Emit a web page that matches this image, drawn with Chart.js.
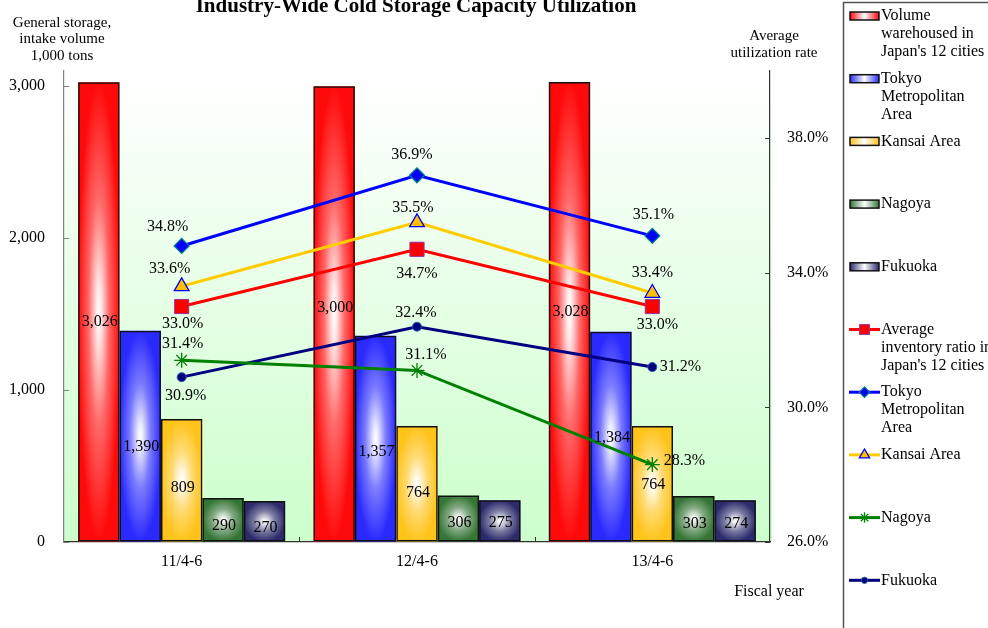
<!DOCTYPE html>
<html><head><meta charset="utf-8">
<script src="https://cdn.jsdelivr.net/npm/chart.js@4.4.1/dist/chart.umd.min.js"></script>
<style>html,body{margin:0;padding:0;background:#fff;}#wrap{width:988px;height:628px;position:relative;}</style>
</head><body><div id="wrap"><canvas id="c" width="988" height="628"></canvas></div>
<script>
// ---- data ----
const categories = ['11/4-6', '12/4-6', '13/4-6'];
const volume12Cities = [3026, 3000, 3028];
const volumeTokyo = [1390, 1357, 1384];
const volumeKansai = [809, 764, 764];
const volumeNagoya = [290, 306, 303];
const volumeFukuoka = [270, 275, 274];
const ratio12Cities = [33.0, 34.7, 33.0];
const ratioTokyo = [34.8, 36.9, 35.1];
const ratioKansai = [33.6, 35.5, 33.4];
const ratioNagoya = [31.4, 31.1, 28.3];
const ratioFukuoka = [30.9, 32.4, 31.2];
const leftTicks = [0, 1000, 2000, 3000];
const rightTicks = [26, 30, 34, 38];
const barLabels = ["Volume\nwarehoused in\nJapan's 12 cities", 'Tokyo\nMetropolitan\nArea', 'Kansai Area', 'Nagoya', 'Fukuoka'];
const lineLabels = ["Average\ninventory ratio in\nJapan's 12 cities", 'Tokyo\nMetropolitan\nArea', 'Kansai Area', 'Nagoya', 'Fukuoka'];

// ---- styles ----
const FONT = "'Liberation Serif', 'Times New Roman', serif";
const barColors = ['#ff0a0a', '#2a2aff', '#ffc31a', '#357535', '#2b2b6b'];
const lineStyles = [
  {color:'#ff0000', point:'rect', radius:10, fill:'#ff0000', border:'#993399', bw:1},
  {color:'#0000ff', point:'rectRot', radius:7.5, fill:'#0000ff', border:'#008080', bw:1.2},
  {color:'#ffcc00', point:'triangle', radius:8.5, fill:'#ffc000', border:'#0000ff', bw:1.3},
  {color:'#008000', point:'star', radius:7.5, fill:'#008000', border:'#008000', bw:1.3},
  {color:'#000080', point:'circle', radius:4.5, fill:'#000080', border:'#2a5fa0', bw:1}
];
const barLabelOffsets = [[10,-6,0],[11,13,1],[8,9,1],[6,4,5],[7,2,3]];
const lineLabelOffsets = [
  [[1,17],[0,24],[5,18]],
  [[-14,-19],[-5,-20],[1,-21]],
  [[-12,-18],[-4,-15],[0,-20]],
  [[1,-17],[9,-16],[32,-4]],
  [[4,19],[-1,-14],[28,0]]
];

function mix(hex, t) { // t=0 -> color, t=1 -> white
  const n = parseInt(hex.slice(1), 16);
  const r = (n >> 16) & 255, g = (n >> 8) & 255, b = n & 255;
  const f = c => Math.round(c + (255 - c) * t);
  return 'rgb(' + f(r) + ',' + f(g) + ',' + f(b) + ')';
}

const barSeries = [volume12Cities, volumeTokyo, volumeKansai, volumeNagoya, volumeFukuoka];
const lineSeries = [ratio12Cities, ratioTokyo, ratioKansai, ratioNagoya, ratioFukuoka];

const datasets = [];
lineSeries.forEach((d, i) => {
  const s = lineStyles[i];
  datasets.push({
    type: 'line', label: lineLabels[i], data: d, yAxisID: 'y1', order: 1,
    borderColor: s.color, borderWidth: 3, tension: 0, fill: false,
    pointStyle: s.point, pointRadius: s.radius, pointBackgroundColor: s.fill,
    pointBorderColor: s.border, pointBorderWidth: s.bw, _kind: 'line', _idx: i
  });
});
barSeries.forEach((d, i) => {
  datasets.push({
    type: 'bar', label: barLabels[i], data: d, yAxisID: 'y', order: 2,
    backgroundColor: 'rgba(0,0,0,0)', borderColor: '#111', borderWidth: 1.5,
    borderSkipped: false, barPercentage: 1, categoryPercentage: 0.88, _kind: 'bar', _idx: i
  });
});

const bgPlugin = {
  id: 'bg',
  beforeDraw(chart) {
    const {ctx, chartArea: a} = chart;
    ctx.save();
    ctx.fillStyle = '#fff';
    ctx.fillRect(0, 0, chart.width, chart.height);
    const g = ctx.createLinearGradient(0, a.top, 0, a.bottom);
    g.addColorStop(0, '#ffffff');
    g.addColorStop(1, '#ccffcc');
    ctx.fillStyle = g;
    ctx.fillRect(a.left, a.top, a.right - a.left + 2, a.bottom - a.top);
    ctx.restore();
  }
};

function fillBarGradient(ctx, left, top, w, h, color) {
  ctx.save();
  ctx.beginPath();
  ctx.rect(left, top, w, h);
  ctx.clip();
  ctx.translate(left + w / 2, top + h / 2);
  ctx.scale(w / 2, h / 2);
  const g = ctx.createRadialGradient(0, 0, 0, 0, 0, 1);
  g.addColorStop(0, '#ffffff');
  g.addColorStop(0.12, mix(color, 0.9));
  g.addColorStop(0.5, mix(color, 0.38));
  g.addColorStop(1, color);
  ctx.fillStyle = g;
  ctx.fillRect(-2, -2, 4, 4);
  ctx.restore();
}

const barFillPlugin = {
  id: 'barFill',
  beforeDatasetsDraw(chart) {
    const ctx = chart.ctx;
    chart.data.datasets.forEach((ds, di) => {
      if (ds._kind !== 'bar') return;
      const meta = chart.getDatasetMeta(di);
      meta.data.forEach(el => {
        const left = el.x - el.width / 2;
        const top = Math.min(el.y, el.base);
        const h = Math.abs(el.base - el.y);
        fillBarGradient(ctx, left, top, el.width, h, barColors[ds._idx]);
      });
    });
  }
};

const labelPlugin = {
  id: 'labels',
  afterDatasetsDraw(chart) {
    const ctx = chart.ctx;
    ctx.save();
    ctx.font = '16px ' + FONT;
    ctx.fillStyle = '#000';
    ctx.textAlign = 'center';
    ctx.textBaseline = 'middle';
    chart.data.datasets.forEach((ds, di) => {
      const meta = chart.getDatasetMeta(di);
      meta.data.forEach((el, j) => {
        if (ds._kind === 'bar') {
          const y = (el.y + el.base) / 2 + barLabelOffsets[ds._idx][j];
          ctx.fillText(ds.data[j].toLocaleString('en-US'), el.x + 1, y);
        } else {
          const o = lineLabelOffsets[ds._idx][j];
          ctx.fillText(ds.data[j].toFixed(1) + '%', el.x + o[0], el.y + o[1]);
        }
      });
    });
    ctx.restore();
  }
};

const decoPlugin = {
  id: 'deco',
  afterDraw(chart) {
    const ctx = chart.ctx;
    const a = chart.chartArea;
    const sy = chart.scales.y, sy1 = chart.scales.y1, sx = chart.scales.x;
    ctx.save();
    // inward tick marks
    ctx.lineWidth = 1;
    ctx.strokeStyle = '#808080';
    sy.ticks.forEach(t => {
      const p = Math.round(sy.getPixelForValue(t.value)) + 0.5;
      ctx.beginPath(); ctx.moveTo(a.left, p); ctx.lineTo(a.left + 5, p); ctx.stroke();
    });
    ctx.strokeStyle = '#333';
    sy1.ticks.forEach(t => {
      const p = Math.round(sy1.getPixelForValue(t.value)) + 0.5;
      ctx.beginPath(); ctx.moveTo(a.right - 5, p); ctx.lineTo(a.right, p); ctx.stroke();
    });
    for (let i = 0; i < categories.length - 1; i++) {
      const p = Math.round((sx.getPixelForTick(i) + sx.getPixelForTick(i + 1)) / 2) + 0.5;
      ctx.beginPath(); ctx.moveTo(p, a.bottom); ctx.lineTo(p, a.bottom - 5); ctx.stroke();
    }
    // title
    ctx.fillStyle = '#000';
    ctx.textAlign = 'center';
    ctx.textBaseline = 'alphabetic';
    ctx.font = 'bold 21px ' + FONT;
    ctx.fillText('Industry-Wide Cold Storage Capacity Utilization', 416, 12);
    // axis titles
    ctx.textBaseline = 'middle';
    ctx.font = '15px ' + FONT;
    ['General storage,', 'intake volume', '1,000 tons'].forEach((s, i) => ctx.fillText(s, 62, 23 + i * 16.3));
    ['Average', 'utilization rate'].forEach((s, i) => ctx.fillText(s, 774, 36 + i * 17));
    ctx.font = '16px ' + FONT;
    ctx.fillText('Fiscal year', 769, 592);
    // legend box
    ctx.strokeStyle = '#555';
    ctx.lineWidth = 1.5;
    ctx.strokeRect(843.5, 2.5, 400, 700);
    const items = [];
    chart.data.datasets.filter(d => d._kind === 'bar').forEach(d => items.push(d));
    chart.data.datasets.filter(d => d._kind === 'line').forEach(d => items.push(d));
    ctx.textAlign = 'left';
    ctx.font = '16px ' + FONT;
    items.forEach((d, k) => {
      const y = 16 + k * 62.7;
      if (d._kind === 'bar') {
        const c = barColors[d._idx];
        const g = ctx.createLinearGradient(850, 0, 879, 0);
        g.addColorStop(0, c); g.addColorStop(0.5, '#ffffff'); g.addColorStop(1, c);
        ctx.fillStyle = g;
        ctx.fillRect(850, y - 4, 29, 8);
        ctx.strokeStyle = '#111'; ctx.lineWidth = 1.5;
        ctx.strokeRect(850, y - 4, 29, 8);
      } else {
        const s = lineStyles[d._idx];
        ctx.strokeStyle = s.color; ctx.lineWidth = 3;
        ctx.beginPath(); ctx.moveTo(849, y); ctx.lineTo(880, y); ctx.stroke();
        ctx.fillStyle = s.fill; ctx.strokeStyle = s.border; ctx.lineWidth = s.bw;
        Chart.helpers.drawPoint(ctx, {pointStyle: s.point, radius: s.radius * 0.7, rotation: 0, borderWidth: s.bw}, 864.5, y);
      }
      ctx.fillStyle = '#000';
      d.label.split('\n').forEach((ln, i) => ctx.fillText(ln, 881, y + i * 18));
    });
    ctx.restore();
  }
};

new Chart(document.getElementById('c'), {
  data: {labels: categories, datasets},
  options: {
    responsive: false, animation: false, devicePixelRatio: 1,
    layout: {padding: {top: 71, left: 0, right: 0, bottom: 0}},
    plugins: {legend: {display: false}, title: {display: false}, tooltip: {enabled: false}},
    scales: {
      x: {
        offset: true,
        grid: {display: true, drawOnChartArea: false, drawTicks: false, offset: true},
        border: {display: true, color: '#333', width: 1.2},
        ticks: {font: {family: FONT, size: 16}, color: '#000', padding: 10},
        afterFit: s => { s.height = 86; }
      },
      y: {
        position: 'left', min: 0, max: 3100,
        grid: {display: true, drawOnChartArea: false, drawTicks: false},
        border: {display: true, color: '#808080', width: 1.2},
        afterBuildTicks: s => { s.ticks = leftTicks.map(v => ({value: v})); },
        ticks: {font: {family: FONT, size: 16}, color: '#000', padding: 19,
          callback: v => Number(v).toLocaleString('en-US')},
        afterFit: s => { s.width = 64; }
      },
      y1: {
        position: 'right', min: 26, max: 40,
        grid: {display: true, drawOnChartArea: false, drawTicks: false},
        border: {display: true, color: '#333', width: 1.2},
        afterBuildTicks: s => { s.ticks = rightTicks.map(v => ({value: v})); },
        ticks: {font: {family: FONT, size: 16}, color: '#000', padding: 17,
          callback: v => Number(v).toFixed(1) + '%'},
        afterFit: s => { s.width = 218; }
      }
    }
  },
  plugins: [bgPlugin, barFillPlugin, labelPlugin, decoPlugin]
});
</script>
</body></html>
